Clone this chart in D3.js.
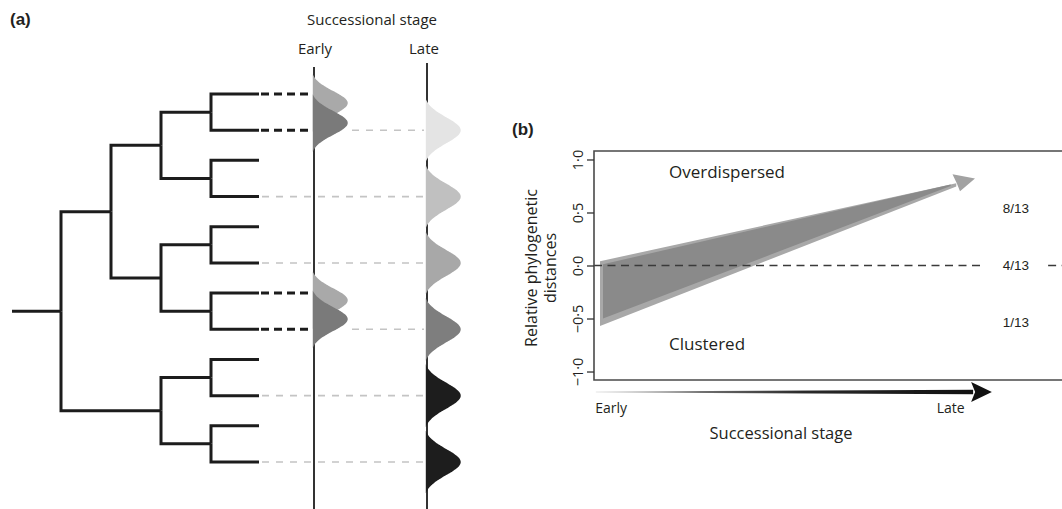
<!DOCTYPE html>
<html><head><meta charset="utf-8">
<script src="https://cdn.jsdelivr.net/npm/d3@7"></script>
<style>
html,body{margin:0;padding:0;background:#fff;}
svg{display:block;}
text{font-family:"Open Sans","Noto Sans",sans-serif;fill:#231f20;}
</style></head><body>
<svg id="chart" width="1062" height="509"></svg>
<script>
// ================= DATA =================
// Panel (a): phylogeny (Newick, branch lengths) and presence in successional stages
const treeNewick = "((((t1:0.96,t2:0.96):1,(t3:0.96,t4:0.96):1):1,((t5:0.96,t6:0.96):1,(t7:0.96,t8:0.96):1):1):1,((t9:0.96,t10:0.96):1,(t11:0.96,t12:0.96):1):2):0.98;";
const earlyTips   = ["t1", "t2", "t7", "t8"];          // species present early
const earlyShift  = [0.25, -0.2, 0.2, -0.28];          // niche mean offset (leaf units)
const lateTips    = ["t2", "t4", "t6", "t8", "t10", "t12"]; // species present late
const earlySigma  = 0.33;
const lateSigma   = 0.36;
const stageLabels = ["Early", "Late"];

// Panel (b): conceptual relative phylogenetic distance through succession
const yTicks        = [-1, -0.5, 0, 0.5, 1];
const outerWedge    = [[0, 0.04], [0.95, 0.775], [0.95, 0.745], [0, -0.57]];
const innerWedge    = [[0.008, 0.012], [0.935, 0.765], [0.935, 0.75], [0.008, -0.5]];
const arrowHead     = [[0.94, 0.86], [1.0, 0.82], [0.96, 0.70], [0.952, 0.772]];
const fractionText  = ["8/13", "4/13", "1/13"];
const fractionValue = [0.54, 0, -0.54];
const regionText    = ["Overdispersed", "Clustered"];
const regionValue   = [0.88, -0.74];

// ================= STYLES =================
const treeColor = "#1c1c1c";
const earlyColors = ["#a9a9a9", "#7a7a7a", "#a9a9a9", "#7a7a7a"];
const lateColors  = ["#e4e4e4", "#c0c0c0", "#a8a8a8", "#7e7e7e", "#1d1d1d", "#1d1d1d"];

const svg = d3.select("#chart");

// ---------- Newick parser ----------
function parseNewick(s) {
  let i = 0;
  function node() {
    const n = {};
    if (s[i] === "(") {
      i++;
      n.children = [node()];
      while (s[i] === ",") { i++; n.children.push(node()); }
      i++;
    }
    let name = "";
    while (i < s.length && !":,);".includes(s[i])) name += s[i++];
    n.name = name;
    if (s[i] === ":") {
      i++;
      let num = "";
      while (i < s.length && !",);".includes(s[i])) num += s[i++];
      n.len = +num;
    } else n.len = 0;
    return n;
  }
  return node();
}

// ================= PANEL (a) =================
const root = d3.hierarchy(parseNewick(treeNewick));
root.eachBefore(d => d.dist = d.parent ? d.parent.dist + d.data.len : 0);
d3.cluster().nodeSize([1, 1]).separation((a, b) => a.parent === b.parent ? 1 : 0.83)(root);
const leaves = root.leaves();
const leafByName = new Map(leaves.map(d => [d.data.name, d]));

const xTree = d3.scaleLinear().domain([0, 3]).range([61, 211]);
const yTree = d3.scaleLinear().domain(d3.extent(leaves, d => d.x)).range([94, 462]);
const unitPx = yTree(1) - yTree(0);
const earlyX = 314, lateX = 427;
const bumpW = d3.scaleLinear().domain([0, 1]).range([0, 35]);
const tipEnd = xTree(d3.max(leaves, d => d.dist));

const ga = svg.append("g");

ga.append("text").attr("x", 10).attr("y", 19).attr("dy", "0.35em")
  .style("font-family", "'Liberation Sans',Arial,sans-serif").style("font-weight", "bold")
  .style("font-size", "17px").text("(a)");
ga.append("text").attr("x", 372).attr("y", 20).attr("dy", "0.35em").attr("text-anchor", "middle")
  .style("font-size", "15px").text("Successional stage");
ga.selectAll("text.stage").data(stageLabels).join("text").attr("class", "stage")
  .attr("x", (d, i) => i === 0 ? earlyX + 1 : lateX - 3).attr("y", 49).attr("dy", "0.35em")
  .attr("text-anchor", "middle").style("font-size", "15px").text(d => d);

// grey dashed links to late stage
ga.selectAll("line.late").data(lateTips).join("line").attr("class", "late")
  .attr("x1", d => earlyTips.includes(d) ? earlyX + 38 : tipEnd + 3)
  .attr("x2", lateX - 3)
  .attr("y1", d => yTree(leafByName.get(d).x)).attr("y2", d => yTree(leafByName.get(d).x))
  .attr("stroke", "#c4c4c4").attr("stroke-width", 1.6).attr("stroke-dasharray", "7,7");

// stage axes
ga.append("line").attr("x1", earlyX).attr("x2", earlyX).attr("y1", 67).attr("y2", 509)
  .attr("stroke", "#333").attr("stroke-width", 2);
ga.append("line").attr("x1", lateX).attr("x2", lateX).attr("y1", 63).attr("y2", 509)
  .attr("stroke", "#333").attr("stroke-width", 2);

// truncated normal niche curve
const zMax = 2.4, gFloor = Math.exp(-zMax * zMax / 2);
function bump(centerPx, sigmaPx, x0) {
  const pts = d3.range(-zMax, zMax + 0.001, 0.1)
    .map(z => [centerPx + z * sigmaPx, Math.max(0, (Math.exp(-z * z / 2) - gFloor) / (1 - gFloor))]);
  return d3.area().curve(d3.curveBasis).y(p => p[0]).x0(x0).x1(p => x0 + bumpW(p[1]))(pts);
}

// early niches
ga.selectAll("path.early").data(earlyTips).join("path").attr("class", "early")
  .attr("d", (d, i) => bump(yTree(leafByName.get(d).x + earlyShift[i]), earlySigma * unitPx, earlyX - 1.2))
  .attr("fill", (d, i) => earlyColors[i]);

// late niches
ga.selectAll("path.lateb").data(lateTips).join("path").attr("class", "lateb")
  .attr("d", d => bump(yTree(leafByName.get(d).x), lateSigma * unitPx, lateX - 1.2))
  .attr("fill", (d, i) => lateColors[i]);

// tree
ga.append("line").attr("x1", xTree(-root.data.len)).attr("x2", xTree(0))
  .attr("y1", yTree(root.x)).attr("y2", yTree(root.x))
  .attr("stroke", treeColor).attr("stroke-width", 3);
ga.selectAll("path.link").data(root.links()).join("path").attr("class", "link")
  .attr("d", l => `M${xTree(l.source.dist)},${yTree(l.source.x)}V${yTree(l.target.x)}H${xTree(l.target.dist)}`)
  .attr("fill", "none").attr("stroke", treeColor).attr("stroke-width", 3)
  .attr("stroke-linejoin", "miter");

// black dashed links to early stage
ga.selectAll("line.early").data(earlyTips).join("line").attr("class", "early")
  .attr("x1", tipEnd + 2).attr("x2", earlyX - 1)
  .attr("y1", d => yTree(leafByName.get(d).x)).attr("y2", d => yTree(leafByName.get(d).x))
  .attr("stroke", treeColor).attr("stroke-width", 3).attr("stroke-dasharray", "8,5");

// ================= PANEL (b) =================
const gb = svg.append("g");
const x = d3.scaleLinear().domain([0, 1]).range([600, 975]);
const y = d3.scaleLinear().domain([-1.08, 1.08]).range([380, 151]);
const boxL = 594, boxR = 1075;

gb.append("text").attr("x", 512).attr("y", 129).attr("dy", "0.35em")
  .style("font-family", "'Liberation Sans',Arial,sans-serif").style("font-weight", "bold")
  .style("font-size", "17px").text("(b)");

const poly = d3.line().x(d => x(d[0])).y(d => y(d[1]));
gb.append("path").attr("d", poly(outerWedge) + "Z").attr("fill", "#a8a8a8");
gb.append("path").attr("d", poly(innerWedge) + "Z").attr("fill", "#8a8a8a");
gb.append("path").attr("d", poly(arrowHead) + "Z").attr("fill", "#a2a2a2");

// zero line (interrupted by the 4/13 label), drawn over the wedge
const zeroSegs = [[boxL, x(1.02)], [x(1.195), boxR]];
gb.selectAll("line.zero").data(zeroSegs).join("line").attr("class", "zero")
  .attr("x1", d => d[0]).attr("x2", d => d[1]).attr("y1", y(0)).attr("y2", y(0))
  .attr("stroke", "#3a3a3a").attr("stroke-width", 1.5).attr("stroke-dasharray", "8,5.5");

// box
gb.append("path").attr("d", `M${boxR},${y.range()[1]}H${boxL}V${y.range()[0]}H${boxR}`)
  .attr("fill", "none").attr("stroke", "#4a4a4a").attr("stroke-width", 1.6);

// y axis
const fmt = d => (d < 0 ? "\u2212" : "") + Math.abs(d).toFixed(1).replace(".", "\u00b7");
const yAxis = gb.append("g").attr("transform", `translate(${boxL},0)`)
  .call(d3.axisLeft(y).tickValues(yTicks).tickSize(7).tickFormat(fmt));
yAxis.select(".domain").remove();
yAxis.selectAll(".tick line").attr("stroke", "#333").attr("stroke-width", 1.3);
yAxis.selectAll(".tick text").attr("x", null).attr("dy", "0.35em").attr("text-anchor", "middle")
  .attr("transform", "translate(-16,0) rotate(-90)")
  .style("font-family", "'Open Sans',sans-serif").style("font-size", "14.5px").attr("fill", "#231f20");

gb.append("text").attr("transform", `translate(531,268) rotate(-90)`).attr("dy", "0.35em")
  .attr("text-anchor", "middle").style("font-size", "16px").text("Relative phylogenetic");
gb.append("text").attr("transform", `translate(550,268) rotate(-90)`).attr("dy", "0.35em")
  .attr("text-anchor", "middle").style("font-size", "16px").text("distances");

gb.selectAll("text.region").data(regionText).join("text").attr("class", "region")
  .attr("x", x(0.184)).attr("y", (d, i) => y(regionValue[i])).attr("dy", "0.35em")
  .style("font-size", "17px").text(d => d);

gb.selectAll("text.frac").data(fractionText).join("text").attr("class", "frac")
  .attr("x", x(1.109)).attr("y", (d, i) => y(fractionValue[i])).attr("dy", "0.35em")
  .attr("text-anchor", "middle")
  .style("font-family", "'Liberation Sans',Arial,sans-serif").style("font-size", "13.5px")
  .text(d => d);

// successional gradient arrow under the x axis
const defs = svg.append("defs");
const grad = defs.append("linearGradient").attr("id", "succ").attr("x1", 0).attr("x2", 1).attr("y1", 0).attr("y2", 0);
[[0, "#e6e6e6"], [0.3, "#6a6a6a"], [0.55, "#2a2a2a"], [1, "#111"]].forEach(s =>
  grad.append("stop").attr("offset", s[0]).attr("stop-color", s[1]));
const ax0 = x(-0.011), ax1 = x(0.995), axTip = x(1.045), ay = 392;
gb.append("path").attr("d", `M${ax0},${ay - 0.6}L${ax1},${ay - 2.3}L${ax1},${ay + 2.3}L${ax0},${ay + 0.6}Z`)
  .attr("fill", "url(#succ)");
gb.append("path").attr("d", `M${ax1 - 2},${ay - 10}L${axTip},${ay}L${ax1 - 2},${ay + 10}L${ax1 + 2},${ay}Z`)
  .attr("fill", "#111");

gb.append("text").attr("x", x(-0.013)).attr("y", 408).attr("dy", "0.35em")
  .style("font-size", "14px").text(stageLabels[0]);
gb.append("text").attr("x", x(0.935)).attr("y", 408).attr("dy", "0.35em").attr("text-anchor", "middle")
  .style("font-size", "14px").text(stageLabels[1]);
gb.append("text").attr("x", 781).attr("y", 433).attr("dy", "0.35em").attr("text-anchor", "middle")
  .style("font-size", "16.5px").text("Successional stage");
</script>
</body></html>
